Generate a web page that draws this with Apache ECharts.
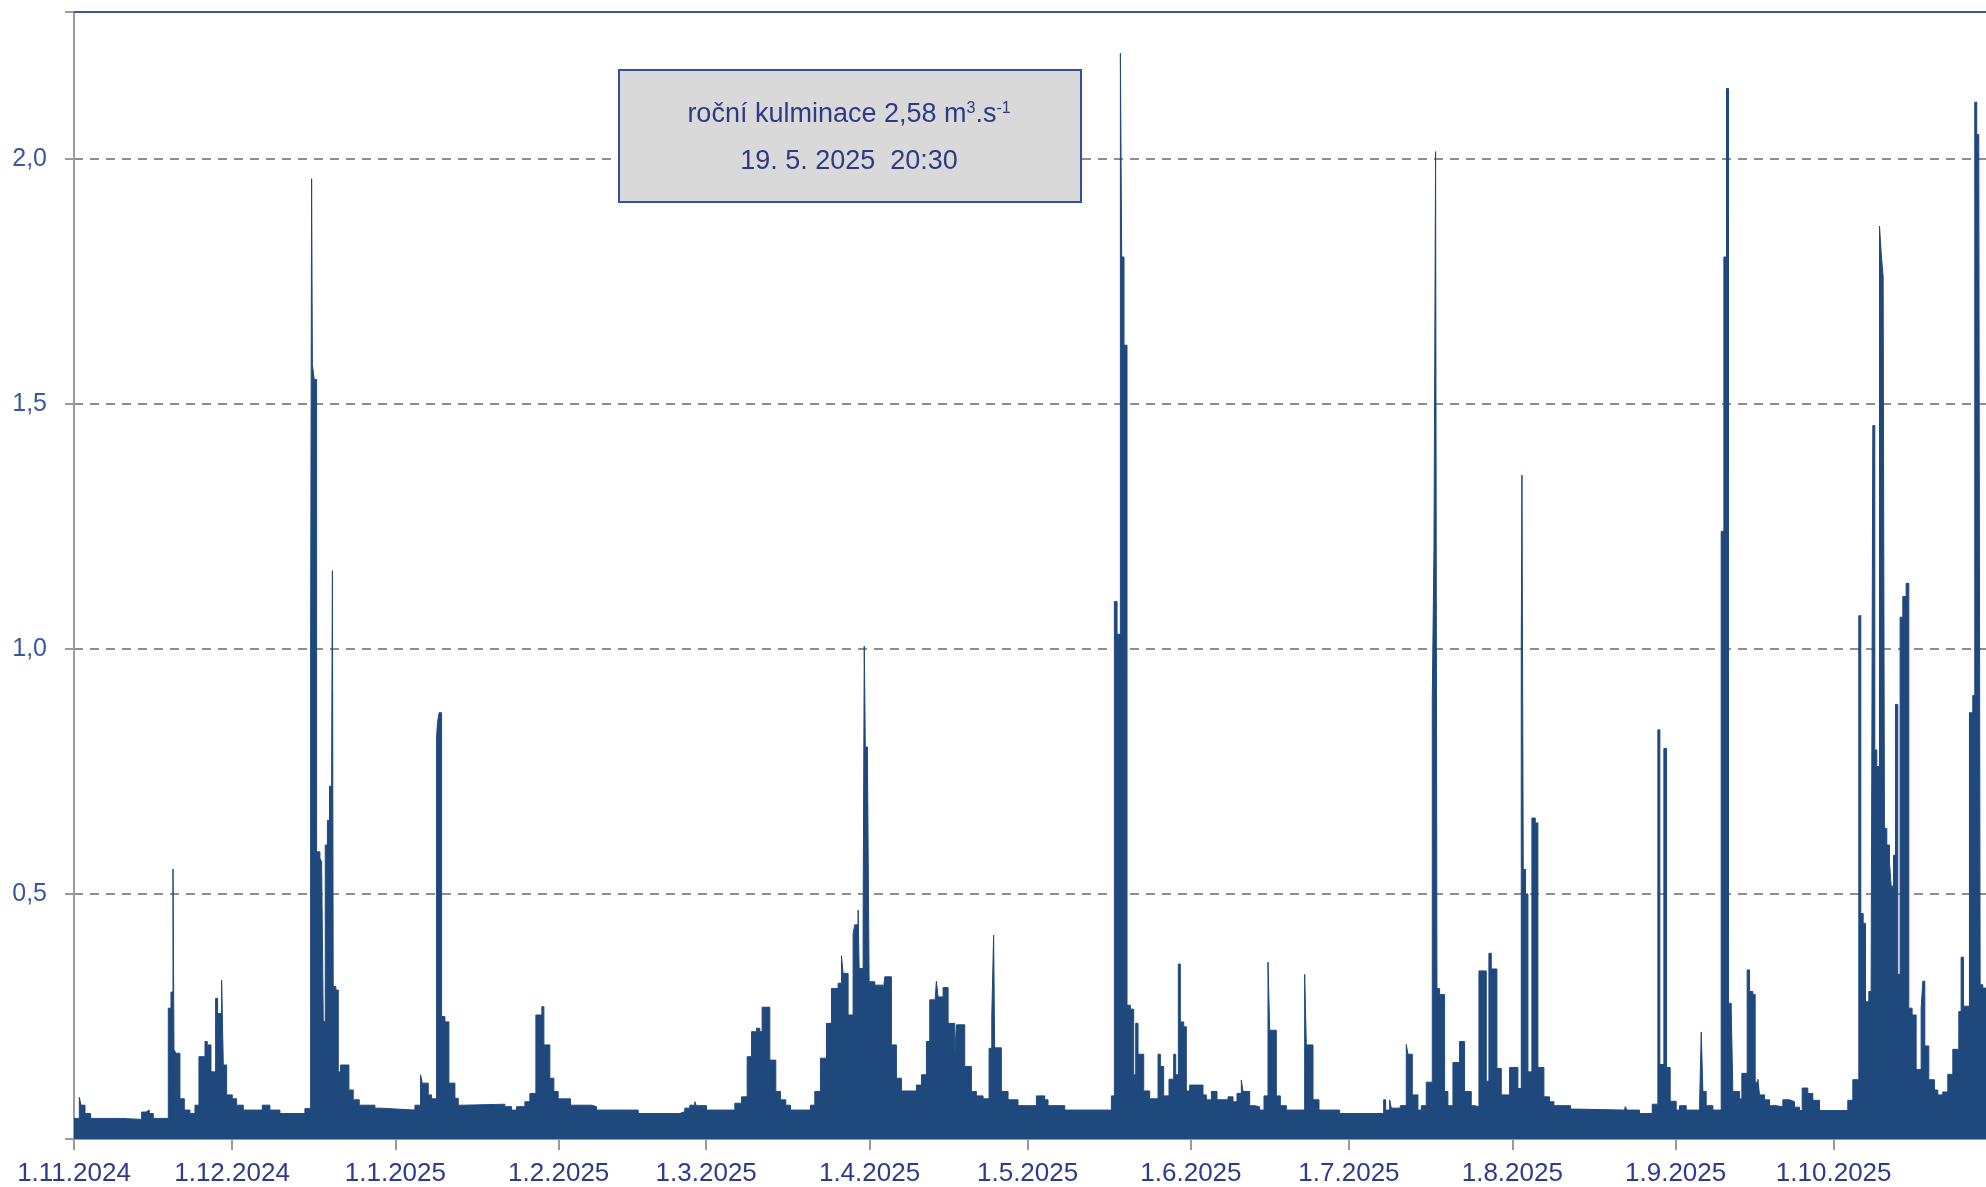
<!DOCTYPE html>
<html>
<head>
<meta charset="utf-8">
<script src="https://cdn.jsdelivr.net/npm/echarts@6/dist/echarts.min.js"></script>
<style>
html,body{margin:0;padding:0;background:#fff;}
#chart{width:1986px;height:1187px;}
</style>
</head>
<body>
<div id="chart"></div>
<script>
// Day offsets from 1.11.2024 (fractional days) and discharge [m3/s]
const novDec = [[0,0.042],[1.01,0.085],[1.33,0.069],[2.09,0.052],[3.16,0.042],[9.04,0.040],[12.84,0.055],[13.66,0.059],[14.29,0.052],[15.05,0.042],[17.9,0.267],[18.41,0.30],[18.79,0.551],[18.98,0.182],[19.35,0.175],[20.11,0.082],[20.94,0.059],[22.01,0.052],[22.96,0.069],[23.72,0.168],[24.86,0.199],[25.3,0.192],[26.0,0.137],[26.88,0.287],[27.26,0.256],[28.02,0.324],[28.34,0.151],[28.97,0.090],[30.04,0.082],[30.87,0.069],[32.13,0.059],[35.74,0.069],[37.19,0.059],[39.09,0.052],[43.83,0.062],[44.91,1.0],[45.1,1.96],[45.25,1.58],[45.6,1.55],[46.05,0.586],[46.68,0.573],[47.0,0.566],[47.31,0.24],[47.69,0.60],[48.1,0.65],[48.5,0.72],[48.9,0.77],[49.05,1.16],[49.2,0.311],[49.7,0.304],[50.16,0.137],[50.6,0.151],[52.18,0.100],[53.0,0.080],[54.14,0.069],[57.12,0.063],[58.06,0.059]];
const janFeb = [[64.71,0.069],[65.78,0.131],[66.10,0.114],[67.24,0.090],[67.87,0.082],[68.82,0.82],[69.0,0.85],[69.3,0.87],[69.77,0.250],[70.40,0.239],[71.16,0.114],[72.30,0.083],[72.93,0.069],[73.88,0.071],[81.78,0.066],[83.05,0.059],[84.0,0.066],[85.58,0.076],[86.53,0.093],[87.67,0.253],[88.8,0.270],[89.19,0.192],[90.32,0.124],[91.08,0.097],[91.90,0.082],[94.24,0.069],[98.23,0.066],[99.18,0.059],[107.08,0.052],[114.99,0.056],[115.94,0.063],[116.89,0.069],[117.84,0.076],[118.15,0.068]];
const marApr = [[120.05,0.059],[125.43,0.073],[126.69,0.086],[127.77,0.168],[128.59,0.219],[129.54,0.226],[130.17,0.219],[130.61,0.269],[132.07,0.161],[133.21,0.097],[134.09,0.080],[135.10,0.069],[135.99,0.059],[139.78,0.069],[140.61,0.097],[141.68,0.165],[142.82,0.236],[143.77,0.307],[145.03,0.318],[145.67,0.374],[145.98,0.338],[146.93,0.253],[147.88,0.420],[148.20,0.437],[148.83,0.467],[149.02,0.348],[149.78,0.45],[150.0,1.006],[150.2,0.80],[150.6,0.78],[150.92,0.321],[152.0,0.314],[153.57,0.297],[153.89,0.331],[155.15,0.192],[156.10,0.124],[157.05,0.098],[159.90,0.110],[160.85,0.131],[161.80,0.199],[162.43,0.284],[163.38,0.273],[163.69,0.322],[164.01,0.290],[164.96,0.309],[165.91,0.236],[167.17,0.171],[167.49,0.233],[169.07,0.148],[170.33,0.097],[171.28,0.088],[172.55,0.082],[173.69,0.185],[174.2,0.25],[174.55,0.416],[174.75,0.186],[176.02,0.097],[177.29,0.080],[179.18,0.068]];
const mayJun = [[181.40,0.068],[182.67,0.088],[184.25,0.080],[184.88,0.068],[188.05,0.059],[196.90,0.088],[197.47,1.097],[197.98,1.03],[198.61,2.216],[198.86,1.8],[199.30,1.62],[199.87,0.273],[200.5,0.265],[201.14,0.131],[201.52,0.236],[201.96,0.173],[203.04,0.098],[204.17,0.082],[205.76,0.173],[206.20,0.148],[206.83,0.088],[207.84,0.122],[208.73,0.173],[209.11,0.131],[209.61,0.357],[209.99,0.239],[210.63,0.229],[211.13,0.098],[211.76,0.110],[214.29,0.090],[214.93,0.080],[215.88,0.097],[216.95,0.080],[219.04,0.086],[219.99,0.076],[220.75,0.093],[221.57,0.120],[221.89,0.097],[223.15,0.068],[224.10,0.066],[225.05,0.059],[225.87,0.088],[226.63,0.361],[226.95,0.222],[228.21,0.088],[228.97,0.068],[230.11,0.059],[233.59,0.336],[233.90,0.192],[235.17,0.080],[236.31,0.059],[240.23,0.052]];
const julAug = [[248.58,0.080],[248.96,0.059],[249.72,0.080],[250.03,0.063],[251.74,0.068],[252.88,0.193],[253.19,0.173],[254.02,0.090],[255.09,0.059],[255.72,0.068],[256.67,0.116],[257.81,0.9],[258.13,1.2],[258.44,2.015],[258.70,0.307],[259.20,0.295],[260.15,0.097],[260.78,0.068],[261.73,0.156],[262.99,0.199],[263.94,0.097],[265.21,0.068],[265.84,0.066],[266.67,0.343],[268.06,0.118],[268.56,0.379],[269.01,0.347],[270.08,0.144],[270.91,0.090],[272.49,0.146],[274.07,0.103],[274.70,1.0],[274.83,1.355],[275.08,0.55],[275.52,0.50],[275.97,0.137],[276.72,0.655],[277.36,0.645],[277.86,0.146],[279.00,0.086],[280.08,0.076],[280.90,0.068],[284.06,0.061],[285.14,0.059],[294.18,0.052],[294.43,0.066],[294.75,0.059],[297.15,0.052],[299.56,0.071],[300.63,0.835],[301.01,0.152],[301.77,0.797],[302.28,0.146],[302.97,0.077]];
const sepOct = [[304.11,0.059],[304.74,0.068],[306.01,0.059],[308.54,0.066],[308.86,0.218],[309.17,0.097],[309.80,0.068],[311.07,0.059],[312.65,1.24],[313.16,1.8],[313.66,2.144],[314.04,0.277],[314.55,0.267],[314.86,0.097],[316.13,0.082],[316.57,0.134],[317.58,0.345],[318.03,0.301],[318.66,0.295],[319.10,0.116],[319.61,0.122],[319.92,0.090],[320.87,0.080],[321.82,0.068],[323.09,0.066],[324.35,0.080],[325.62,0.076],[326.57,0.065],[327.51,0.058],[328.02,0.104],[329.09,0.093],[330.04,0.079],[331.31,0.058],[336.68,0.079],[337.63,0.121],[338.77,1.068],[339.15,0.46],[339.60,0.44],[340.04,0.280],[340.67,0.301],[341.11,0.322],[341.43,1.456],[341.81,0.794],[342.19,0.760],[342.70,1.863],[343.07,1.80],[343.39,1.76],[343.64,0.634],[344.09,0.60],[344.59,0.565],[344.91,0.516],[345.35,0.579],[345.73,0.887],[346.17,0.336],[346.61,1.065],[347.12,1.107],[347.75,1.134],[348.26,0.267],[348.89,0.253],[349.65,0.142],[350.60,0.267],[350.92,0.322],[351.30,0.190],[352.06,0.121],[353.13,0.100],[353.76,0.090],[354.71,0.096],[355.66,0.132],[356.61,0.183],[357.75,0.260],[358.19,0.371],[358.63,0.271],[359.77,0.870],[360.40,0.905],[360.78,2.116],[361.16,2.05],[361.54,2.03],[361.80,0.315],[362.30,0.308],[362.8,0.31],[365,0.30]];

const yTicks = [0.5, 1.0, 1.5, 2.0];
const annotLine1 = 'roční kulminace 2,58 m{sup|3}.s{sup|-1}';
const annotLine2 = '19. 5. 2025  20:30';

const DAY = 86400000;
const startTime = new Date(2024, 10, 1).getTime();
const endTime = new Date(2025, 10, 1).getTime();
const allPoints = [].concat(novDec, janFeb, marApr, mayJun, julAug, sepOct)
  .map(p => [startTime + p[0] * DAY, p[1]]);

const blue = '#1F497D';
const chart = echarts.init(document.getElementById('chart'), null, {renderer: 'canvas'});
chart.setOption({
  animation: false,
  backgroundColor: '#ffffff',
  grid: {left: 74, top: 12, width: 1923, height: 1127, containLabel: false, outerBoundsMode: 'none'},
  xAxis: [{
    type: 'time',
    min: startTime,
    max: endTime,
    splitNumber: 12,
    axisLine: {show: true, lineStyle: {color: '#9a9a9a', width: 2}},
    axisTick: {show: true, length: 11, lineStyle: {color: '#9a9a9a', width: 2}},
    minorTick: {show: false},
    splitLine: {show: false},
    axisLabel: {
      color: '#2E3A8C', fontSize: 26, fontFamily: 'Liberation Sans, Arial, sans-serif',
      margin: 22, hideOverlap: false, showMaxLabel: false,
      formatter: function (v) {
        if (v >= endTime) return '';
        const d = new Date(v);
        return d.getDate() + '.' + (d.getMonth() + 1) + '.' + d.getFullYear();
      }
    }
  }, {
    type: 'value', position: 'top', min: 0, max: 1,
    axisLine: {show: true, onZero: false, lineStyle: {color: '#3A5AA0', width: 2}},
    axisTick: {show: false}, axisLabel: {show: false}, splitLine: {show: false}
  }],
  yAxis: {
    type: 'value', min: 0, max: 2.3, interval: 0.5,
    axisLine: {show: true, lineStyle: {color: '#9a9a9a', width: 2}},
    axisTick: {show: true, length: 9, lineStyle: {color: '#9a9a9a', width: 2}},
    splitLine: {show: true, showMinLine: false, showMaxLine: false,
      lineStyle: {color: '#8f8f8f', width: 2, type: [9, 7]}},
    axisLabel: {
      color: '#3A56A5', fontSize: 25, fontFamily: 'Liberation Sans, Arial, sans-serif', margin: 27,
      formatter: function (v) {
        const t = yTicks.find(x => Math.abs(x - v) < 1e-6);
        return t === undefined ? '' : t.toFixed(1).replace('.', ',');
      }
    }
  },
  series: [{
    type: 'line', xAxisIndex: 0, data: allPoints, step: 'end',
    showSymbol: false, symbol: 'none', sampling: false,
    lineStyle: {color: blue, width: 1},
    areaStyle: {color: blue, opacity: 1},
    z: 1
  }],
  graphic: [{
    type: 'rect', left: 618, top: 69, z: 100, zlevel: 1,
    shape: {x: 0, y: 0, width: 462, height: 132},
    style: {fill: '#D9D9D9', stroke: '#2F52A0', lineWidth: 2}
  }, {
    type: 'text', x: 849, y: 115, z: 101, zlevel: 1,
    style: {
      text: annotLine1, align: 'center', verticalAlign: 'middle',
      fill: '#2E3A87', font: '27px "Liberation Sans", Arial, sans-serif',
      rich: {sup: {fontSize: 16, verticalAlign: 'top', fill: '#2E3A87', padding: [0, 0, 12, 0], fontFamily: 'Liberation Sans'}}
    }
  }, {
    type: 'text', x: 849, y: 162, z: 101, zlevel: 1,
    style: {
      text: annotLine2, align: 'center', verticalAlign: 'middle',
      fill: '#2E3A87', font: '27px "Liberation Sans", Arial, sans-serif'
    }
  }]
});
</script>
</body>
</html>
